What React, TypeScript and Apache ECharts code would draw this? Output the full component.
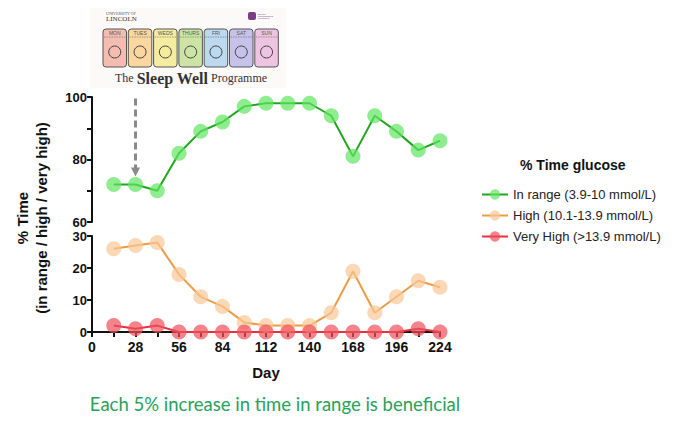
import React, { useEffect, useRef } from 'react';
import * as echarts from 'echarts';

const days = [14, 28, 42, 56, 70, 84, 98, 112, 126, 140, 154, 168, 182, 196, 210, 224];
const inRange = [72, 72, 70, 82, 89, 92, 97, 98, 98, 98, 94, 81, 94, 89, 83, 86];
const high = [26, 27, 28, 18, 11, 8, 3, 2, 2, 2, 6, 19, 6, 11, 16, 14];
const veryHigh = [2, 1, 2, 0, 0, 0, 0, 0, 0, 0, 0, 0, 0, 0, 1, 0];
const seriesNames = ['In range (3.9-10 mmol/L)', 'High (10.1-13.9 mmol/L)', 'Very High (>13.9 mmol/L)'];
const weekDays = ['MON', 'TUES', 'WEDS', 'THURS', 'FRI', 'SAT', 'SUN'];
const dayColors = ['#f5bcb2', '#f9d79e', '#f4ec9e', '#cde4a4', '#bcd9ef', '#c6c2ea', '#eec4e2'];

const pairs = (vals: number[]) => days.map((d, i) => [d, vals[i]]);

const App: React.FC = () => {
  const chartRef = useRef<HTMLDivElement>(null);

  useEffect(() => {
    if (!chartRef.current) return;
    const chart = echarts.init(chartRef.current, null, { renderer: 'svg' });

    const axisFont = { fontFamily: 'Liberation Sans', fontWeight: 'bold' as const, fontSize: 14, color: '#111' };
    const axisLine = { show: true, lineStyle: { color: '#111', width: 2 } };
    const axisTick = { show: true, length: 5, lineStyle: { color: '#111', width: 2 } };

    // logo boxes
    const logo: any[] = [
      { type: 'rect', shape: { x: 90, y: 2, width: 196, height: 86 }, style: { fill: '#fbfaf9' } },
      { type: 'text', x: 106, y: 11, style: { text: 'UNIVERSITY OF', font: '4px Liberation Serif', fill: '#555' } },
      { type: 'text', x: 106, y: 15, style: { text: 'LINCOLN', font: '7px Liberation Serif', fill: '#333' } },
      { type: 'rect', shape: { x: 248, y: 12, width: 8, height: 8, r: 2 }, style: { fill: '#7a3d82' } },
      { type: 'text', x: 258, y: 13, style: { text: 'BISHOP\nGROSSETESTE\nUNIVERSITY', font: '2px Liberation Sans', fill: '#7a3d82' } },
      {
        type: 'text', x: 191, y: 78,
        style: {
          text: '{a|The }{b|Sleep Well}{a| Programme}',
          align: 'center', verticalAlign: 'middle',
          rich: {
            a: { font: '12px Liberation Serif', fill: '#333' },
            b: { font: 'bold 16px Liberation Serif', fill: '#333' },
          },
        },
      },
    ];
    weekDays.forEach((w, i) => {
      const x = 103 + i * 25.3;
      logo.push({ type: 'rect', shape: { x, y: 29, width: 23.5, height: 38, r: 3 }, style: { fill: dayColors[i], stroke: '#555', lineWidth: 1 } });
      logo.push({ type: 'line', shape: { x1: x + 1, y1: 37, x2: x + 22.5, y2: 37 }, style: { stroke: '#666', lineWidth: 0.6, lineDash: [1.5, 1] } });
      logo.push({ type: 'text', x: x + 11.75, y: 33, style: { text: w, align: 'center', verticalAlign: 'middle', font: '5px Liberation Sans', fill: '#555' } });
      logo.push({ type: 'circle', shape: { cx: x + 11.75, cy: 52, r: 6 }, style: { fill: 'none', stroke: '#444', lineWidth: 1 } });
    });

    const option = {
      animation: false,
      grid: [
        { left: 92, top: 97, width: 348, height: 125 },
        { left: 92, top: 236, width: 348, height: 96 },
      ],
      xAxis: [
        { type: 'value', gridIndex: 0, min: 0, max: 224, show: false },
        {
          type: 'value', gridIndex: 1, min: 0, max: 224, interval: 14,
          axisLine, axisTick, splitLine: { show: false },
          axisLabel: { ...axisFont, margin: 8, formatter: (v: number) => (v % 28 === 0 ? String(v) : '') },
          name: 'Day', nameLocation: 'middle', nameGap: 33,
          nameTextStyle: { fontFamily: 'Liberation Sans', fontWeight: 'bold', fontSize: 15, color: '#111' },
        },
      ],
      yAxis: [
        {
          type: 'value', gridIndex: 0, min: 60, max: 100, interval: 10,
          axisLine, axisTick, splitLine: { show: false },
          axisLabel: { ...axisFont, fontSize: 13, margin: 5, formatter: (v: number) => (v % 20 === 0 ? String(v) : '') },
        },
        {
          type: 'value', gridIndex: 1, min: 0, max: 30, interval: 10,
          axisLine, axisTick, splitLine: { show: false },
          axisLabel: { ...axisFont, fontSize: 13, margin: 5 },
        },
      ],
      legend: {
        orient: 'vertical', left: 476, top: 183, itemGap: 8, itemWidth: 26, itemHeight: 13,
        textStyle: { fontFamily: 'Liberation Sans', fontSize: 13, color: '#222' },
        data: seriesNames,
      },
      series: [
        {
          name: seriesNames[0], type: 'line', xAxisIndex: 0, yAxisIndex: 0,
          data: pairs(inRange), symbol: 'circle', symbolSize: 15,
          lineStyle: { color: '#1fa61f', width: 2 },
          itemStyle: { color: 'rgba(96,230,96,0.7)' },
          markLine: {
            silent: true, symbol: ['none', 'triangle'], symbolSize: [9, 9],
            label: { show: false },
            lineStyle: { color: '#8a8a8a', width: 3, type: [7, 4] },
            data: [[{ coord: [28, 99.5] }, { coord: [28, 76] }]],
          },
        },
        {
          name: seriesNames[1], type: 'line', xAxisIndex: 1, yAxisIndex: 1,
          data: pairs(high), symbol: 'circle', symbolSize: 15,
          lineStyle: { color: '#ef9a44', width: 2 },
          itemStyle: { color: 'rgba(248,200,150,0.7)' },
        },
        {
          name: seriesNames[2], type: 'line', xAxisIndex: 1, yAxisIndex: 1,
          data: pairs(veryHigh), symbol: 'circle', symbolSize: 15,
          lineStyle: { color: '#e8303a', width: 2 },
          itemStyle: { color: 'rgba(238,80,90,0.7)' },
        },
      ],
      graphic: [
        ...logo,
        {
          type: 'text', left: 520, top: 158,
          style: { text: '% Time glucose', font: 'bold 14px Liberation Sans', fill: '#111' },
        },
        {
          type: 'text', x: 32, y: 218, rotation: Math.PI / 2,
          style: {
            text: '% Time\n(in range / high / very high)', align: 'center', verticalAlign: 'middle',
            font: 'bold 15px Liberation Sans', fill: '#111', lineHeight: 19,
          },
        },
        {
          type: 'text', x: 275, y: 404,
          style: {
            text: 'Each 5% increase in time in range is beneficial', align: 'center', verticalAlign: 'middle',
            font: '18.5px Lato', fill: '#28a25a',
          },
        },
      ],
    };

    chart.setOption(option);
    return () => chart.dispose();
  }, []);

  return <div ref={chartRef} style={{ width: 680, height: 427, margin: -8 }} />;
};

export default App;
